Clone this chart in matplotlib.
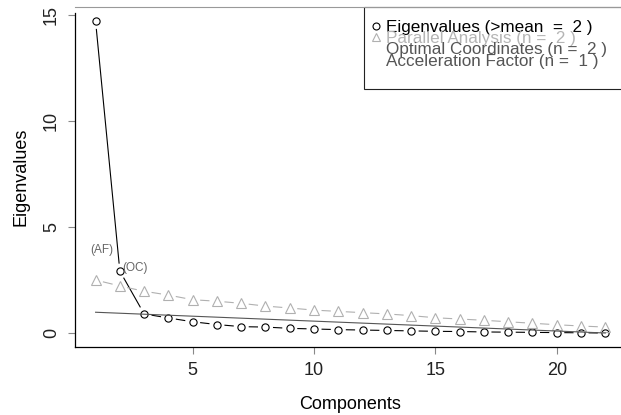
import numpy as np
import matplotlib
matplotlib.use('Agg')
import matplotlib.pyplot as plt
from matplotlib.collections import LineCollection
from matplotlib.patches import Rectangle

plt.rcParams['font.family'] = ['Liberation Sans', 'DejaVu Sans']

# данные
components = np.arange(1, 23)
eigenvalues = [14.7, 2.92, 0.90, 0.71, 0.53, 0.40, 0.30, 0.28, 0.22, 0.19, 0.16,
               0.14, 0.12, 0.10, 0.08, 0.07, 0.05, 0.04, 0.03, 0.02, 0.01, 0.00]
parallel = [2.50, 2.22, 1.97, 1.79, 1.57, 1.50, 1.40, 1.27, 1.18, 1.08, 1.02,
            0.96, 0.90, 0.82, 0.72, 0.66, 0.60, 0.53, 0.46, 0.39, 0.33, 0.28]
oc_x = [1, 22]
oc_y = [0.98, 0.0]
af_pos = (1.25, 3.9)
oc_pos = (2.1, 3.05)
legend_labels = ['Eigenvalues (>mean  =  2 )', 'Parallel Analysis (n =  2 )',
                 'Optimal Coordinates (n =  2 )', 'Acceleration Factor (n =  1 )']
legend_colors = ['black', '#b5b5b5', '#555555', '#555555']

fig = plt.figure(figsize=(6.21, 4.15), dpi=100)
ax = fig.add_axes([75.2 / 621, 68 / 415, 550.5 / 621, 340 / 415])
ax.set_xlim(0.16, 22.84)
ax.set_ylim(-0.66, 15.38)


def type_b(x, y, color, marker, ms, gap=7.5, lw=0.8):
    # линии с разрывами у точек, как type="b" в R
    pts = ax.transData.transform(np.column_stack([x, y]))
    segs = []
    for p1, p2 in zip(pts[:-1], pts[1:]):
        d = p2 - p1
        L = np.hypot(*d)
        if L > 2 * gap:
            u = d / L
            segs.append(ax.transData.inverted().transform([p1 + u * gap, p2 - u * gap]))
    ax.add_collection(LineCollection(segs, colors=color, linewidths=lw))
    ax.plot(x, y, linestyle='none', marker=marker, ms=ms, mfc='none',
            mec=color, mew=0.8)


type_b(components, eigenvalues, 'black', 'o', 5.2)
type_b(components, parallel, '#b0b0b0', '^', 6.5)
ax.plot(oc_x, oc_y, color='#555555', lw=0.8)

ax.text(*af_pos, '(AF)', fontsize=8.5, color='#666666', ha='center', va='center')
ax.text(*oc_pos, '(OC)', fontsize=8.5, color='#666666', ha='left', va='center')

# оси
ax.set_xticks([5, 10, 15, 20])
ax.set_yticks([0, 5, 10, 15])
ax.tick_params(length=5, width=0.8, color='#888888', labelsize=13, labelcolor='#222222', pad=6)
for lab in ax.get_yticklabels():
    lab.set_rotation(90)
    lab.set_va('center')
ax.spines['right'].set_visible(False)
ax.spines['left'].set_bounds(-0.66, 15.1)
ax.spines['top'].set_color('#999999')
ax.spines['top'].set_zorder(6)
for s in ['left', 'bottom']:
    ax.spines[s].set_linewidth(0.9)
ax.set_xlabel('Components', fontsize=13, labelpad=12)
ax.set_ylabel('Eigenvalues', fontsize=13, labelpad=10)

# легенда
ax.add_patch(Rectangle((0.5246, 0.7588), 0.6, 0.2412, transform=ax.transAxes,
                       facecolor='white', edgecolor='#222222', lw=0.8,
                       clip_on=False, zorder=5))
ax.plot([0.5459], [0.9441], transform=ax.transAxes, marker='o', ms=5, mfc='none',
        mec='black', mew=0.8, clip_on=False, zorder=7)
ax.plot([0.5459], [0.9118], transform=ax.transAxes, marker='^', ms=5.5, mfc='none',
        mec='#b0b0b0', mew=0.8, clip_on=False, zorder=7)
for lab, col, yb in zip(legend_labels, legend_colors, [0.9256, 0.8932, 0.8609, 0.8265]):
    ax.text(0.5646, yb, lab, transform=ax.transAxes, fontsize=12.3, color=col,
            va='baseline', ha='left', zorder=7)

plt.savefig('out.png', dpi=100)
